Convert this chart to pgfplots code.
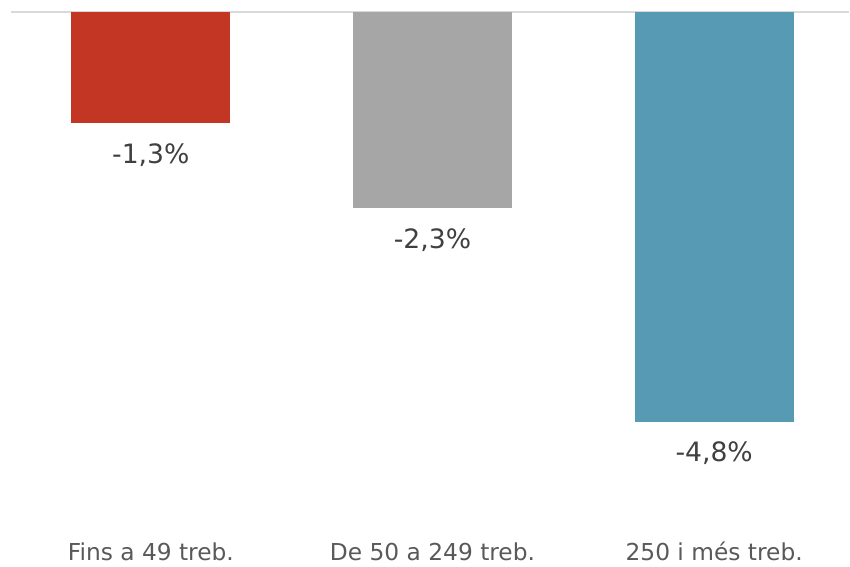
\documentclass[border=0pt]{standalone}
\usepackage{pgfplots}
\pgfplotsset{compat=1.18}
\usepackage{fontspec}
\setmainfont{DejaVu Sans}
\definecolor{cRed}{HTML}{C23623}
\definecolor{cGray}{HTML}{A6A6A6}
\definecolor{cTeal}{HTML}{569BB3}
\definecolor{cZero}{HTML}{D9D9D9}
\definecolor{cLab}{HTML}{404040}
\definecolor{cTick}{HTML}{595959}
\begin{document}
\begin{tikzpicture}
\begin{axis}[
  scale only axis,
  width=637.5pt, height=425.25pt,
  xmin=-0.5355, xmax=2.4787,
  ymin=-6.499, ymax=0.1405,
  axis line style={draw=none},
  major tick length=0pt,
  ytick=\empty,
  xtick={0,1,2},
  xticklabels={Fins a 49 treb., De 50 a 249 treb., 250 i més treb.},
  xticklabel style={font=\fontsize{17.5}{20}\selectfont, text=cTick, anchor=center, inner sep=0pt, yshift=11pt},
  ybar, bar width=119.25pt, bar shift=0pt,
  clip=false,
  nodes near coords,
  point meta=explicit symbolic,
  every node near coord/.append style={font=\fontsize{20}{22}\selectfont, text=cLab, anchor=center, yshift=-24pt},
]
\draw[cZero, line width=1.5pt] (axis cs:-0.497,0) -- (axis cs:2.4787,0);
\addplot[fill=cRed, draw=none] coordinates {(0,-1.3) [-1,3\%]};
\addplot[fill=cGray, draw=none] coordinates {(1,-2.3) [-2,3\%]};
\addplot[fill=cTeal, draw=none] coordinates {(2,-4.8) [-4,8\%]};
\end{axis}
\end{tikzpicture}
\end{document}
